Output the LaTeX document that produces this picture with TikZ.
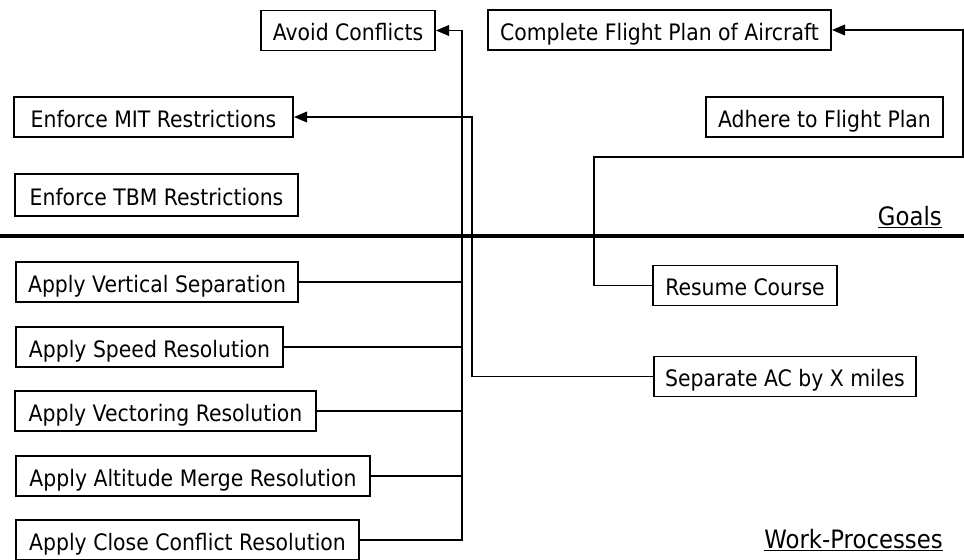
\documentclass[tikz,border=0pt]{standalone}
\usepackage{fontspec}
\setmainfont{DejaVu Sans}[FakeStretch=0.9]
\usetikzlibrary{arrows.meta}
\begin{document}
\begin{tikzpicture}[x=0.75pt,y=-0.75pt,
  box/.style={draw, line width=1.3pt, inner sep=0pt, minimum height=30pt,
    text height=18pt, text depth=2.5pt,
    font=\fontsize{17}{20}\selectfont},
  link/.style={line width=1.4pt},
  arr/.style={link, -{Triangle[length=10pt,width=8pt]}},
  heading/.style={font=\fontsize{19}{22}\selectfont, inner sep=0pt, anchor=base east}]
\useasboundingbox (0,0) rectangle (964,560);

% goals
\node[box, minimum width=174*0.75pt] (avoid) at (348,30.5) {Avoid Conflicts};
\node[box, minimum width=343*0.75pt] (complete) at (659.5,30) {Complete Flight Plan of Aircraft};
\node[box, minimum width=279*0.75pt] (mit) at (153.5,117) {Enforce MIT Restrictions};
\node[box, minimum width=283*0.75pt, minimum height=31.5pt] (tbm) at (156.5,195) {Enforce TBM Restrictions};
\node[box, minimum width=237*0.75pt] (adhere) at (824.5,117) {Adhere to Flight Plan};

% work-processes
\node[box, minimum width=282*0.75pt] (vert) at (157,282) {Apply Vertical Separation};
\node[box, minimum width=267*0.75pt] (speed) at (149.5,347) {Apply Speed Resolution};
\node[box, minimum width=301*0.75pt] (vector) at (165.5,411) {Apply Vectoring Resolution};
\node[box, minimum width=354*0.75pt] (alt) at (193,476) {Apply Altitude Merge Resolution};
\node[box, minimum width=343*0.75pt] (close) at (187.5,540) {Apply Close Conflict Resolution};
\node[box, minimum width=184*0.75pt] (resume) at (745,285.5) {Resume Course};
\node[box, minimum width=262*0.75pt] (separate) at (785,376.5) {Separate AC by X miles};

% dividing line between the two layers
\coordinate (sepL) at (0,236);
\coordinate (sepR) at (964,236);
\draw[line width=2.3pt] (sepL) -- (sepR);

\node[heading] (goals) at (942,225) {\underline{Goals}};
\node[heading] (work) at (943,548) {\underline{Work-Processes}};

% trunk lines
\coordinate (trunkA) at (462,0);
\coordinate (trunkB) at (472,0);
\coordinate (turnR) at (594,157);
\coordinate (edgeR) at (963,157);

\draw[arr] (close.east) -| (trunkA |- avoid.east) -- (avoid.east);
\foreach \n in {vert,speed,vector,alt}
  \draw[link] (\n.east) -- (\n.east -| trunkA);

\draw[arr] (separate.west) -| (trunkB |- mit.east) -- (mit.east);

\draw[arr] (resume.west) -| (turnR) -- (edgeR) |- (complete.east);
\end{tikzpicture}
\end{document}
